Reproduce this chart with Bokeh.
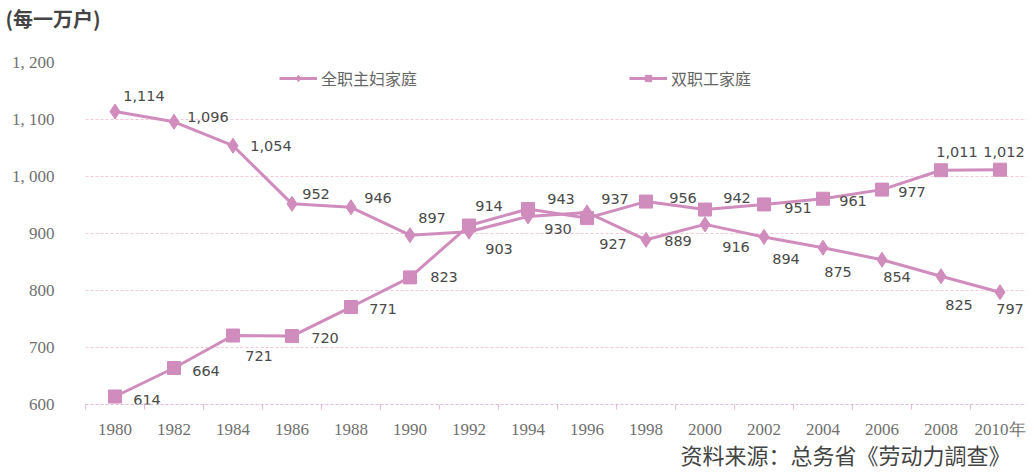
from bokeh.plotting import figure
from bokeh.models import (ColumnDataSource, FixedTicker, Legend, LegendItem, Range1d, Title)
from bokeh.core.properties import value
from bokeh.embed import file_html
from bokeh.resources import INLINE

# ---- data ----
years = [1980, 1982, 1984, 1986, 1988, 1990, 1992, 1994, 1996, 1998, 2000, 2002, 2004, 2006, 2008, 2010]
housewife = [1114, 1096, 1054, 952, 946, 897, 903, 930, 937, 889, 916, 894, 875, 854, 825, 797]
dual_income = [614, 664, 721, 720, 771, 823, 914, 943, 927, 956, 942, 951, 961, 977, 1011, 1012]
series_names = ["全职主妇家庭", "双职工家庭"]
y_ticks = [600, 700, 800, 900, 1000, 1100, 1200]
y_tick_labels = ["600", "700", "800", "900", "1, 000", "1, 100", "1, 200"]
x_tick_labels = [str(y) for y in years[:-1]] + ["2010年"]
unit_text = "(每一万户)"
source_text = "资料来源：总务省《劳动力調查》"

# ---- label offsets (style, px) ----
hw_dx = [29, 34, 38, 24, 27, 22, 30, 30, 28, 32, 31, 22, 15, 15, 18, 10]
hw_dy = [-16, -5, 0, -10, -9, -17, 17, 13, -13, 1, 23, 22, 24, 17, 29, 17]
di_dx = [32, 32, 26, 33, 32, 34, 20, 33, 26, 37, 32, 34, 30, 30, 16, 4]
di_dy = [3, 3, 20, 2, 2, 0, -20, -10, 26, -4, -12, 4, 2, 2, -18, -18]

PINK = "#d08cbc"
GRID = "#f2c8da"
TXT = "#4a4a4a"

def fmt(v):
    return f"{v:,}"

src_hw = ColumnDataSource(dict(x=years, y=housewife, t=[fmt(v) for v in housewife], dx=hw_dx, dy=hw_dy))
src_di = ColumnDataSource(dict(x=years, y=dual_income, t=[fmt(v) for v in dual_income], dx=di_dx, dy=di_dy))

p = figure(width=1026, height=468, output_backend="svg", toolbar_location=None,
           x_range=Range1d(1979, 1979 + 941 / 29.5), y_range=Range1d(600, 1200),
           min_border_left=85, min_border_right=0, min_border_top=62, min_border_bottom=64)
p.outline_line_color = None
p.background_fill_color = "white"

# grids
p.ygrid.ticker = FixedTicker(ticks=y_ticks)
p.ygrid.grid_line_color = GRID
p.ygrid.grid_line_dash = "3 2"
p.ygrid.grid_line_width = 1
p.xgrid.ticker = FixedTicker(ticks=[1979])
p.xgrid.grid_line_color = GRID
p.xgrid.grid_line_dash = "3 2"

# axes
p.yaxis.ticker = FixedTicker(ticks=y_ticks)
p.yaxis.major_label_overrides = {t: l for t, l in zip(y_ticks, y_tick_labels)}
p.yaxis.axis_line_color = None
p.yaxis.major_tick_line_color = None
p.yaxis.minor_tick_line_color = None
p.yaxis.major_label_standoff = 25
p.yaxis.major_label_text_font = "Liberation Serif"
p.yaxis.major_label_text_font_size = "17px"
p.yaxis.major_label_text_color = "#707070"

p.xaxis.ticker = FixedTicker(ticks=years, minor_ticks=[y + 1 for y in years[:-1]] + [1979])
p.xaxis.major_label_overrides = {t: l for t, l in zip(years, x_tick_labels)}
p.xaxis.axis_line_color = PINK
p.xaxis.axis_line_alpha = 0.6
p.xaxis.axis_line_dash = "3 2"
p.xaxis.major_tick_line_color = None
p.xaxis.major_tick_out = 0
p.xaxis.major_tick_in = 0
p.xaxis.minor_tick_line_color = PINK
p.xaxis.minor_tick_line_alpha = 0.6
p.xaxis.minor_tick_out = 5
p.xaxis.minor_tick_in = 0
p.xaxis.major_label_standoff = 10
p.xaxis.major_label_text_font = "Liberation Serif"
p.xaxis.major_label_text_font_size = "17px"
p.xaxis.major_label_text_color = "#707070"

# series
l1 = p.line("x", "y", source=src_hw, line_color=PINK, line_width=3)
m1 = p.scatter("x", "y", source=src_hw, marker="diamond", size=15, fill_color=PINK, line_color=PINK)
l2 = p.line("x", "y", source=src_di, line_color=PINK, line_width=3)
m2 = p.scatter("x", "y", source=src_di, marker="square", size=13, fill_color=PINK, line_color=PINK)

for s in (src_hw, src_di):
    p.text("x", "y", text="t", source=s, x_offset="dx", y_offset="dy",
           text_align="center", text_baseline="middle",
           text_font=value("DejaVu Sans"), text_font_size="14.5px", text_color=TXT)

# legends
for item, loc in ((LegendItem(label=series_names[0], renderers=[l1, m1]), (194, 314)),
                  (LegendItem(label=series_names[1], renderers=[l2, m2]), (544, 314))):
    lg = Legend(items=[item], location=loc, orientation="horizontal",
                glyph_width=38, glyph_height=16, label_standoff=4, padding=0, margin=0,
                border_line_color=None, background_fill_alpha=0,
                label_text_font="Noto Sans CJK SC", label_text_font_size="16px",
                label_text_color="#666666")
    p.add_layout(lg, "center")

# unit (top-left): a blank spacer next to the frame pushes it up
p.add_layout(Title(text=" ", text_font_size="10px", standoff=15), "above")
p.add_layout(Title(text=unit_text, align="left", offset=-80, standoff=0, vertical_align="top",
                   text_font="Noto Sans CJK SC", text_font_size="20px",
                   text_font_style="bold", text_color="#444444"), "above")
# source (bottom-right)
p.add_layout(Title(text=source_text, align="left", offset=595, standoff=0,
                   text_font="Liberation Serif, Noto Sans CJK SC", text_font_size="22px",
                   text_font_style="normal", text_color="#444444"), "below")

open("out.html", "w").write(file_html(p, INLINE))
